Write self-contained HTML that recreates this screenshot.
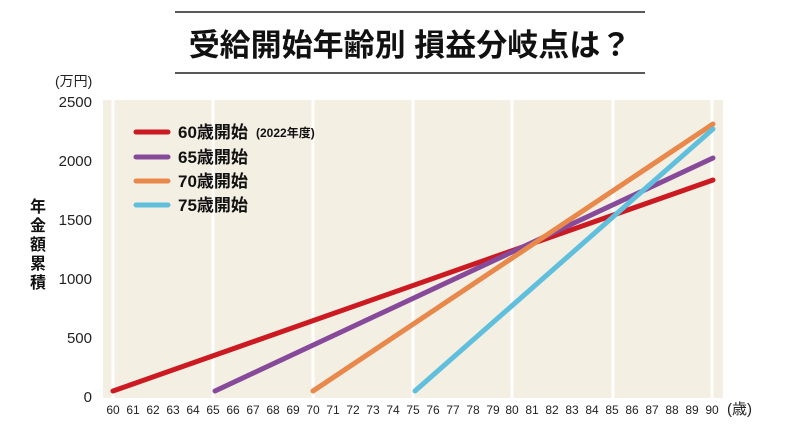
<!DOCTYPE html>
<html><head><meta charset="utf-8"><style>
body{margin:0;background:#fff;width:793px;height:437px;overflow:hidden;font-family:"Liberation Sans","Noto Sans CJK JP",sans-serif}
</style></head><body>
<svg width="793" height="437" viewBox="0 0 793 437" font-family="Liberation Sans, Noto Sans CJK JP, sans-serif">
<line x1="175" y1="12" x2="645" y2="12" stroke="#222" stroke-width="1.5"/>
<line x1="175" y1="73" x2="645" y2="73" stroke="#222" stroke-width="1.5"/>
<text x="410" y="56" text-anchor="middle" font-size="31" font-weight="bold" fill="#111">受給開始年齢別 損益分岐点は？</text>
<rect x="103" y="100" width="620" height="298" fill="#f4efe3"/>
<g stroke="#fff" stroke-width="3">
<line x1="113" y1="100" x2="113" y2="398"/><line x1="213" y1="100" x2="213" y2="398"/>
<line x1="313" y1="100" x2="313" y2="398"/><line x1="413" y1="100" x2="413" y2="398"/>
<line x1="512" y1="100" x2="512" y2="398"/><line x1="613" y1="100" x2="613" y2="398"/>
<line x1="712" y1="100" x2="712" y2="398"/>
</g>
<g font-size="15" fill="#222" text-anchor="end">
<text x="92" y="107">2500</text><text x="92" y="166">2000</text><text x="92" y="225">1500</text>
<text x="92" y="284">1000</text><text x="92" y="343">500</text><text x="92" y="402">0</text>
</g>
<text x="55" y="86" font-size="14" fill="#222">(万円)</text>
<g font-size="16" font-weight="bold" fill="#111" text-anchor="middle">
<text x="38" y="212">年</text><text x="38" y="231">金</text><text x="38" y="250">額</text><text x="38" y="269">累</text><text x="38" y="288">積</text>
</g>
<text x="727" y="414" font-size="15" fill="#222">(歳)</text>
<g stroke-width="5" stroke-linecap="round">
<line x1="113" y1="391" x2="713" y2="180" stroke="#cc1a22"/>
<line x1="215" y1="391" x2="713" y2="158" stroke="#874a9a"/>
<line x1="313" y1="391" x2="713" y2="124" stroke="#e8884a"/>
<line x1="415" y1="391" x2="713" y2="129" stroke="#5fbfdc"/>
</g>
<g stroke-width="5" stroke-linecap="round">
<line x1="136" y1="132" x2="168" y2="132" stroke="#cc1a22"/>
<line x1="136" y1="157" x2="168" y2="157" stroke="#874a9a"/>
<line x1="136" y1="181" x2="168" y2="181" stroke="#e8884a"/>
<line x1="136" y1="205" x2="168" y2="205" stroke="#5fbfdc"/>
</g>
<g font-size="17" font-weight="bold" fill="#111">
<text x="178" y="138">60歳開始</text><text x="178" y="163">65歳開始</text>
<text x="178" y="187">70歳開始</text><text x="178" y="211">75歳開始</text>
</g>
<text x="256" y="137" font-size="12" font-weight="bold" fill="#111">(2022年度)</text>
<g font-size="12" fill="#222" text-anchor="middle">
<text x="113" y="414">60</text><text x="133" y="414">61</text><text x="153" y="414">62</text><text x="173" y="414">63</text><text x="193" y="414">64</text>
<text x="213" y="414">65</text><text x="233" y="414">66</text><text x="253" y="414">67</text><text x="273" y="414">68</text><text x="293" y="414">69</text>
<text x="313" y="414">70</text><text x="333" y="414">71</text><text x="353" y="414">72</text><text x="373" y="414">73</text><text x="393" y="414">74</text>
<text x="413" y="414">75</text><text x="433" y="414">76</text><text x="453" y="414">77</text><text x="473" y="414">78</text><text x="493" y="414">79</text>
<text x="512" y="414">80</text><text x="532" y="414">81</text><text x="552" y="414">82</text><text x="572" y="414">83</text><text x="592" y="414">84</text>
<text x="612" y="414">85</text><text x="632" y="414">86</text><text x="652" y="414">87</text><text x="672" y="414">88</text><text x="692" y="414">89</text>
<text x="712" y="414">90</text>
</g>
</svg>
</body></html>
